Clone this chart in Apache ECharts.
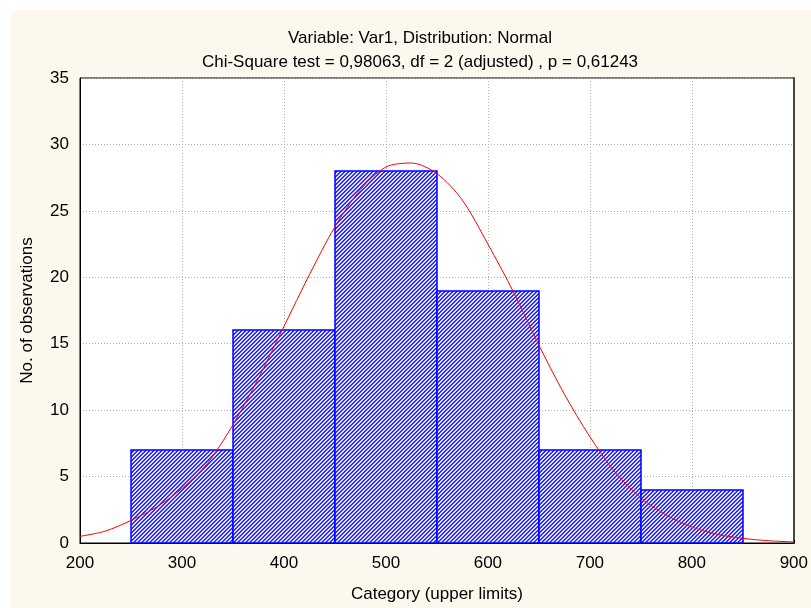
<!DOCTYPE html>
<html>
<head>
<meta charset="utf-8">
<script src="https://cdn.jsdelivr.net/npm/echarts@6/dist/echarts.min.js"></script>
<style>
  html, body { margin: 0; padding: 0; background: #ffffff; }
  #bg { position: absolute; left: 11px; top: 10px; width: 800px; height: 598px; background: #fdf8ee; }
  #chart { position: absolute; left: 0; top: 0; width: 811px; height: 608px; }
</style>
</head>
<body>
<div id="bg"></div>
<div id="chart"></div>
<script>
// ---- data ----
const titleLine1 = 'Variable: Var1, Distribution: Normal';
const titleLine2 = 'Chi-Square test = 0,98063, df = 2 (adjusted) , p = 0,61243';
const xAxisName = 'Category (upper limits)';
const yAxisName = 'No. of observations';

const binLower = [250, 350, 450, 550, 650, 750];
const binUpper = [350, 450, 550, 650, 750, 850];
const binCounts = [7, 16, 28, 19, 7, 4];

const curveX = [200, 225, 250, 275, 300, 325, 350, 375, 400, 425, 450, 475, 500, 525, 550,
                575, 600, 625, 650, 675, 700, 725, 750, 775, 800, 825, 850, 875, 900];
const curveY = [0.5, 0.9, 1.7, 2.7, 4.1, 6.0, 8.9, 12.4, 16.3, 20.2, 23.8, 26.6, 28.3, 28.6, 27.8,
                25.8, 22.5, 18.9, 14.9, 11.2, 8.0, 5.3, 3.4, 2.1, 1.2, 0.65, 0.35, 0.17, 0.08];

const xMin = 200, xMax = 900, xStep = 100;
const yMin = 0, yMax = 35, yStep = 5;

// ---- hatch pattern ----
const tile = document.createElement('canvas');
tile.width = 4; tile.height = 4;
const tctx = tile.getContext('2d');
const shade = ['#4040ff', '#ffffff', '#c8c8ff', '#2020ff'];
for (let y = 0; y < 4; y++) {
  for (let x = 0; x < 4; x++) {
    tctx.fillStyle = shade[(x + y) % 4];
    tctx.fillRect(x, y, 1, 1);
  }
}

const FONT = '"Liberation Sans", Arial, sans-serif';
const FS = 17;

const chart = echarts.init(document.getElementById('chart'), null, { renderer: 'canvas' });

const histData = binLower.map((lo, i) => [lo, binUpper[i], binCounts[i]]);
const curveData = curveX.map((x, i) => [x, curveY[i]]);

chart.setOption({
  backgroundColor: 'transparent',
  animation: false,
  title: {
    text: titleLine1 + '\n' + titleLine2,
    left: 415,
    textAlign: 'center',
    top: 21,
    textStyle: { fontFamily: FONT, fontSize: FS, fontWeight: 'normal', color: '#000', lineHeight: 24 }
  },
  grid: {
    left: 80, top: 78, right: 13, bottom: 58,
    show: true, backgroundColor: '#ffffff', borderColor: '#000000', borderWidth: 1
  },
  xAxis: {
    type: 'value', min: xMin, max: xMax, interval: xStep,
    name: xAxisName, nameLocation: 'middle', nameGap: 43,
    nameTextStyle: { fontFamily: FONT, fontSize: FS, color: '#000' },
    axisLine: { show: true, onZero: false, lineStyle: { color: '#000', width: 1 } },
    axisTick: { show: true, inside: true, length: 3, lineStyle: { color: '#000' } },
    axisLabel: { fontFamily: FONT, fontSize: FS, color: '#000', margin: 12 },
    splitLine: { show: true, lineStyle: { color: '#b0b0b0', type: [1, 2], width: 1 } }
  },
  yAxis: [{
    type: 'value', min: yMin, max: yMax, interval: yStep,
    name: yAxisName, nameLocation: 'middle', nameGap: 44, nameRotate: 90,
    nameTextStyle: { fontFamily: FONT, fontSize: FS, color: '#000' },
    axisLine: { show: true, lineStyle: { color: '#000', width: 1 } },
    axisTick: { show: false },
    axisLabel: { fontFamily: FONT, fontSize: FS, color: '#000', margin: 11 },
    splitLine: { show: true, lineStyle: { color: '#b0b0b0', type: [1, 2], width: 1 } }
  }, {
    type: 'value', min: yMin, max: yMax, interval: yStep, position: 'right',
    axisLine: { show: true, lineStyle: { color: '#444', width: 2 } },
    axisTick: { show: false }, axisLabel: { show: false }, splitLine: { show: false }
  }],
  series: [{
    type: 'custom',
    data: histData,
    encode: { x: [0, 1], y: 2 },
    renderItem: function (params, api) {
      const p0 = api.coord([api.value(0), api.value(2)]);
      const p1 = api.coord([api.value(1), 0]);
      return {
        type: 'rect',
        shape: { x: Math.round(p0[0]), y: Math.round(p0[1]),
                 width: Math.round(p1[0] - p0[0]), height: Math.round(p1[1] - p0[1]) },
        style: { fill: { image: tile, repeat: 'repeat' }, stroke: '#0000ff', lineWidth: 1.5 }
      };
    },
    z: 2
  }, {
    type: 'line',
    data: curveData,
    smooth: 0.3,
    showSymbol: false,
    symbol: 'none',
    lineStyle: { color: '#ff0000', width: 1 },
    z: 3
  }]
});
</script>
</body>
</html>
